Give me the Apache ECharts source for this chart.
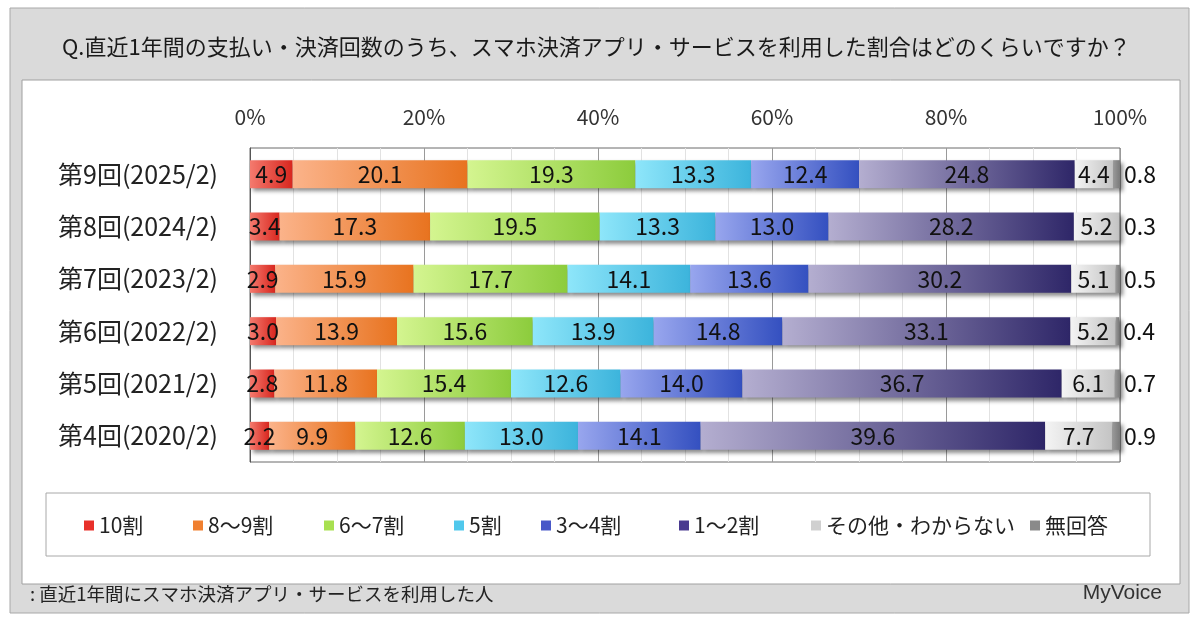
<!DOCTYPE html>
<html><head><meta charset="utf-8">
<script src="https://cdn.jsdelivr.net/npm/echarts@6/dist/echarts.min.js"></script>
<style>html,body{margin:0;padding:0;background:#fff}#c{width:1200px;height:624px}</style>
</head><body><div id="c"></div>
<script>
const categories = ['第9回(2025/2)','第8回(2024/2)','第7回(2023/2)','第6回(2022/2)','第5回(2021/2)','第4回(2020/2)'];
const seriesNames = ['10割','8～9割','6～7割','5割','3～4割','1～2割','その他・わからない','無回答'];
const v10 = [4.9, 3.4, 2.9, 3.0, 2.8, 2.2];
const v89 = [20.1, 17.3, 15.9, 13.9, 11.8, 9.9];
const v67 = [19.3, 19.5, 17.7, 15.6, 15.4, 12.6];
const v5 = [13.3, 13.3, 14.1, 13.9, 12.6, 13.0];
const v34 = [12.4, 13.0, 13.6, 14.8, 14.0, 14.1];
const v12 = [24.8, 28.2, 30.2, 33.1, 36.7, 39.6];
const vOther = [4.4, 5.2, 5.1, 5.2, 6.1, 7.7];
const vNA = [0.8, 0.3, 0.5, 0.4, 0.7, 0.9];
const tickValues = [0, 20, 40, 60, 80, 100];

const allValues = [v10, v89, v67, v5, v34, v12, vOther, vNA];
const grads = [
  ['#f47a6e','#d8261e'],
  ['#fbb38a','#e8731f'],
  ['#d4f590','#8ccc3c'],
  ['#8ee6fa','#3cb4dc'],
  ['#98a6ee','#3450c0'],
  ['#b4aed0','#2e2668'],
  ['#f4f4f4','#c4c4c4'],
  ['#9a9a9a','#7a7a7a']
];
const legendIcon = ['#e8302a','#f08030','#a8e050','#50c8ec','#4858c8','#4a3a90','#d0d0d0','#8a8a8a'];
const legendLeft = [84, 193, 324, 454, 541, 679, 811, 1030];
const FONT = "'Noto Sans CJK JP', sans-serif";

const series = seriesNames.map((name, i) => ({
  name, type: 'bar', stack: 'total', barWidth: 28,
  data: allValues[i],
  itemStyle: {
    color: new echarts.graphic.LinearGradient(0,0,1,0,[{offset:0,color:grads[i][0]},{offset:1,color:grads[i][1]}]),
    shadowColor: 'rgba(0,0,0,0.45)', shadowBlur: 4, shadowOffsetX: 3, shadowOffsetY: 3
  },
  label: {
    show: true,
    position: i === 7 ? 'right' : 'inside',
    distance: 4,
    color: '#111', fontSize: 23, fontFamily: FONT,
    formatter: p => p.value.toFixed(1)
  }
}));

const legends = seriesNames.map((name, i) => ({
  data: [{ name, itemStyle: { color: legendIcon[i] } }],
  left: legendLeft[i], top: 515, padding: 0, itemWidth: 10, itemHeight: 10, itemGap: 0,
  icon: 'rect', textStyle: { fontSize: 21, color: '#222', fontFamily: FONT }
}));

const chart = echarts.init(document.getElementById('c'));
chart.setOption({
  animation: false,
  textStyle: { fontFamily: FONT },
  graphic: [
    { type: 'rect', z: -10, shape: { x: 10, y: 8, width: 1179, height: 605 }, style: { fill: '#dadada', stroke: '#a8a8a8', lineWidth: 1 } },
    { type: 'rect', z: -9, shape: { x: 22, y: 80, width: 1158, height: 504 }, style: { fill: '#ffffff', stroke: '#a0a0a0', lineWidth: 1 } },
    { type: 'rect', z: -8, shape: { x: 46, y: 493, width: 1104, height: 63 }, style: { fill: '#ffffff', stroke: '#a8a8a8', lineWidth: 1 } },
    { type: 'text', z: 5, x: 62, y: 47, style: { text: 'Q.直近1年間の支払い・決済回数のうち、スマホ決済アプリ・サービスを利用した割合はどのくらいですか？', fontSize: 22, fontFamily: FONT, fill: '#1a1a1a', textVerticalAlign: 'middle' } },
    { type: 'text', z: 5, x: 30, y: 594, style: { text: ': 直近1年間にスマホ決済アプリ・サービスを利用した人', fontSize: 18.5, fontFamily: FONT, fill: '#222', textVerticalAlign: 'middle' } },
    { type: 'text', z: 5, x: 1162, y: 593, style: { text: 'MyVoice', fontSize: 21, fontFamily: "'Liberation Sans Narrow', 'Liberation Sans', sans-serif", fill: '#333', textAlign: 'right', textVerticalAlign: 'middle' } }
  ],
  legend: legends,
  grid: { left: 250, right: 80, top: 148, bottom: 162, show: true, borderColor: '#6a6a6a', borderWidth: 1, backgroundColor: '#fff' },
  xAxis: {
    type: 'value', position: 'top', min: 0, max: 100, interval: 20,
    axisLine: { show: false }, axisTick: { show: false },
    axisLabel: { formatter: v => tickValues.includes(v) ? v + '%' : '', fontSize: 21, color: '#333', margin: 20 },
    splitLine: { show: true, lineStyle: { color: '#9a9a9a', width: 1 } },
    minorTick: { show: false, splitNumber: 4 },
    minorSplitLine: { show: true, lineStyle: { color: '#e2e2e2', width: 1 } }
  },
  yAxis: {
    type: 'category', inverse: true, data: categories,
    axisLine: { show: true, lineStyle: { color: '#555' } }, axisTick: { show: false },
    axisLabel: { fontSize: 25, color: '#222', margin: 32 }
  },
  series
});
</script></body></html>
